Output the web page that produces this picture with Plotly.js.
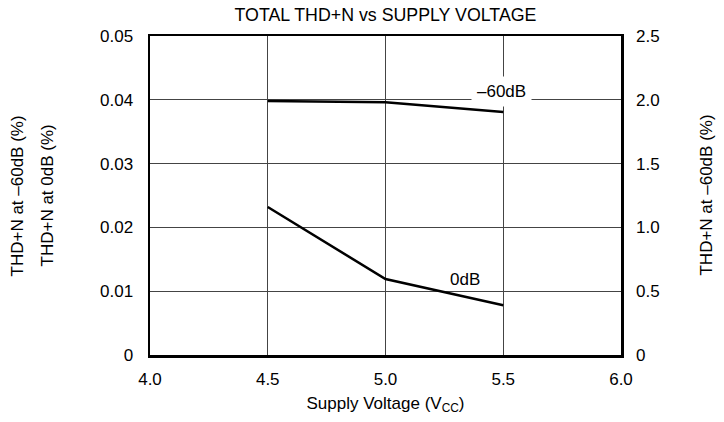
<!DOCTYPE html>
<html><head><meta charset="utf-8">
<script src="https://cdn.plot.ly/plotly-3.0.1.min.js"></script>
<style>html,body{margin:0;padding:0;background:#fff}#c{width:724px;height:422px}</style>
</head><body><div id="c"></div>
<script>
const voltage = [4.5, 5.0, 5.5];
const thd0dB = [0.0232, 0.0119, 0.0078];
const thd60dB = [1.99, 1.98, 1.905];
const xTicks = [4.0, 4.5, 5.0, 5.5, 6.0];
const xTickText = ['4.0', '4.5', '5.0', '5.5', '6.0'];
const yTicks = [0, 0.01, 0.02, 0.03, 0.04, 0.05];
const yTickText = ['0', '0.01', '0.02', '0.03', '0.04', '0.05'];
const y2Ticks = [0, 0.5, 1.0, 1.5, 2.0, 2.5];
const y2TickText = ['0', '0.5', '1.0', '1.5', '2.0', '2.5'];

const font = {family: 'Liberation Sans, Arial, sans-serif', size: 17, color: '#000'};
const traces = [
  {x: voltage, y: thd0dB, mode: 'lines', line: {color: '#000', width: 2.5}, yaxis: 'y', showlegend: false, hoverinfo: 'skip'},
  {x: voltage, y: thd60dB, mode: 'lines', line: {color: '#000', width: 2.5}, yaxis: 'y2', showlegend: false, hoverinfo: 'skip'}
];
const layout = {
  width: 724, height: 422,
  margin: {l: 150, r: 103, t: 36, b: 67},
  paper_bgcolor: '#fff', plot_bgcolor: '#fff',
  font: font,
  title: {text: 'TOTAL THD+N vs SUPPLY VOLTAGE', font: {size: 17.8, family: font.family, color: '#000'}, x: 0.5325, xanchor: 'center', y: 0.9656, yanchor: 'middle'},
  xaxis: {range: [4.0, 6.0], tickvals: xTicks, ticktext: xTickText, showgrid: true, gridcolor: '#444', gridwidth: 1,
    zeroline: false, showline: true, linecolor: '#000', linewidth: 2.5, mirror: true, ticks: '', ticklabelstandoff: 7,
    title: {text: 'Supply Voltage (V<sub>CC</sub>)', font: {size: 17}, standoff: 9}},
  yaxis: {range: [0, 0.05], tickvals: yTicks, ticktext: yTickText, showgrid: true, gridcolor: '#444', gridwidth: 1,
    zeroline: false, showline: true, linecolor: '#000', linewidth: 2.5, mirror: true, ticks: '', ticklabelstandoff: 11},
  yaxis2: {range: [0, 2.5], tickvals: y2Ticks, ticktext: y2TickText, overlaying: 'y', side: 'right', showgrid: false,
    zeroline: false, showline: false, ticks: '', ticklabelstandoff: 14},
  annotations: [
    {text: 'THD+N at –60dB (%)', textangle: -90, xref: 'paper', yref: 'paper', x: -0.2803, y: 0.5, xanchor: 'center', yanchor: 'middle', showarrow: false, font: {size: 17}},
    {text: 'THD+N at 0dB (%)', textangle: -90, xref: 'paper', yref: 'paper', x: -0.2166, y: 0.5, xanchor: 'center', yanchor: 'middle', showarrow: false, font: {size: 17}},
    {text: 'THD+N at –60dB (%)', textangle: -90, xref: 'paper', yref: 'paper', x: 1.1805, y: 0.5, xanchor: 'center', yanchor: 'middle', showarrow: false, font: {size: 17}},
    {text: '–60dB', xref: 'x', yref: 'y', x: 5.493, y: 0.0413, xanchor: 'center', yanchor: 'middle', showarrow: false, bgcolor: '#fff', font: {size: 17}, borderpad: 5},
    {text: '0dB', xref: 'x', yref: 'y', x: 5.338, y: 0.0119, xanchor: 'center', yanchor: 'middle', showarrow: false, bgcolor: 'rgba(255,255,255,0)', font: {size: 17}, borderpad: 1}
  ]
};
Plotly.newPlot('c', traces, layout, {displayModeBar: false, staticPlot: true});
</script></body></html>
